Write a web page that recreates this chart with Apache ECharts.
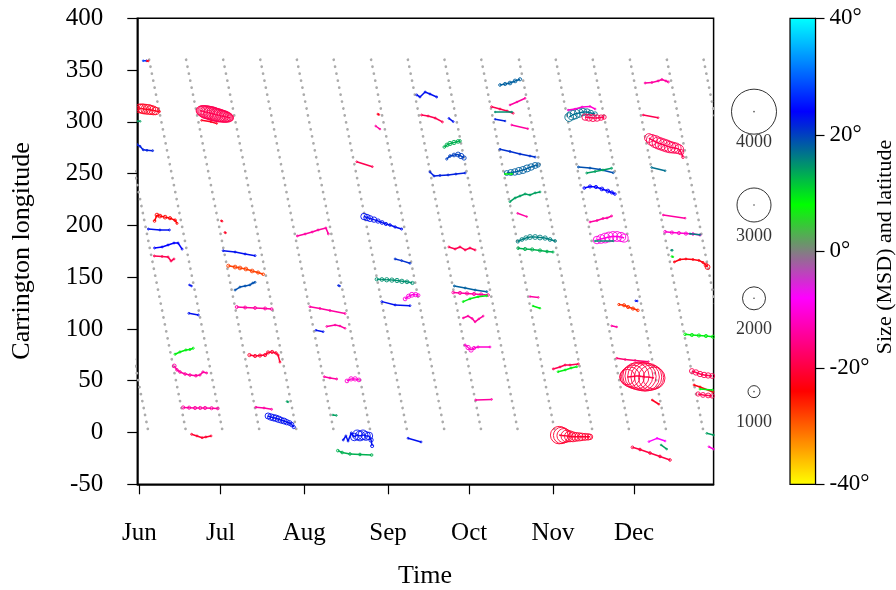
<!DOCTYPE html>
<html><head><meta charset="utf-8">
<script src="https://cdn.jsdelivr.net/npm/echarts@6/dist/echarts.min.js"></script>
<style>html,body{margin:0;padding:0;background:#fff}#c{width:896px;height:590px}</style>
</head><body><div id="c"></div>
<script>
// ---- axis data ----
const monthDays = [0, 30, 61, 92, 122, 153, 183];          // days since Jun 1
const monthLabels = ['Jun', 'Jul', 'Aug', 'Sep', 'Oct', 'Nov', 'Dec'];
const latColors = ['#ffff00','#ff8000','#ff0000','#ff0080','#ff00ff','#808080','#00ff00','#008080','#0000ff','#0080ff','#00ffff'];
const sizeLegend = [1000, 2000, 3000, 4000];
// limb lines: day when central longitude passes 360 and 0
const limbStart = [-23.9,-9.95,3.59,17.28,31.0,44.73,58.27,71.88,85.72,99.33,112.87,126.49,140.44,154.05,167.74,181.47,195.15,208.73];
const limbEnd   = [3.37,17.32,30.86,44.55,58.27,72.0,85.54,99.15,112.99,126.6,140.14,153.76,167.71,181.32,195.01,208.74,222.42,236.0];
// ---- tracks: latitude per track, points [day, longitude, area MSD] ----
const trackLat = [28,-22,-22,14,22,-24,23,24,-19,-22,-22,-14,23,23,9,-14,-14,-21,-19,23,-28,19,-14,-21,-14,23,14,-14,23,-14,-14,-11,14,-22,-14,-19,23,23,-19,23,13,20,22,-19,18,-14,-19,15,22,-14,21,18,9,14,-14,16,13,18,-14,9,-14,-11,-14,13,23,23,17,-19,-11,19,14,24,-14,-10,15,-14,-19,-19,17,-14,-11,16,-14,9,-19,9,-21,-27,23,-14,-17,-20,-22,-20,-8,14,15,9,-23,9,-19,-23,9,-19,14,-10,22,-22,23,15,-10,21];
const trackPoints = [
 [[1.4,359,60],[2.6,359,60]],
 [[2.8,358.8,50],[3.3,358.8,50]],
 [[-0.7,313,300],[0.0,313,700],[0.8,312.8,750],[1.5,312.5,800],[2.4,312.2,800],[3.4,312,800],[4.3,311.5,750],[5.2,311,700],[6.0,310.5,600],[7.4,310,100]],
 [[-0.8,300.5,50],[0.3,300.5,50]],
 [[-0.8,278,80],[0.2,276.5,80],[1.4,273,80],[2.8,272.5,80],[4.9,272.2,80]],
 [[5.6,204.3,150],[6.5,210,250],[7.6,209,250],[9.5,208,250],[11.3,207,200],[13.2,205,150],[13.9,202,100]],
 [[3.3,196.5,80],[7.6,195.6,80],[11.1,195.6,80]],
 [[5.6,178.2,80],[8.4,179.2,80],[10.6,181.1,80],[12.8,183,80],[14.3,183,80],[15.8,177.1,80]],
 [[5.5,170.5,80],[8.4,170,80],[10.6,169.5,80],[11.7,165.6,80],[12.8,167.6,80]],
 [[30.3,204.5,50],[30.6,204,50]],
 [[31.6,193.2,50],[31.9,192.8,50]],
 [[58.4,189.8,80],[61.3,191.7,80],[63.9,193.6,80],[66.1,195.6,80],[69.0,197.5,80],[69.9,191.8,80]],
 [[18.5,142.5,50],[19.3,141.5,50]],
 [[18.3,115.1,80],[21.8,113.5,80]],
 [[13.2,75.6,100],[15.0,77.8,100],[17.2,79.7,100],[18.7,80.2,100],[19.9,81.4,100]],
 [[12.9,64.3,250],[13.9,60.5,150],[15.0,58.5,150],[16.9,56.5,150],[18.7,55.5,150],[20.9,54.9,150],[22.4,55.5,100],[23.5,58.5,100],[24.9,57.5,80]],
 [[16.2,24.2,200],[18.4,24,200],[20.6,23.7,200],[22.5,23.7,200],[24.3,23.7,200],[26.7,23.5,200],[29.0,23.2,150]],
 [[19.3,-1.7,80],[21.3,-3.3,80],[23.2,-5,80],[24.6,-4.3,80],[26.5,-3.3,80]],
 [[22.6,310.8,700],[23.2,310.5,900],[23.8,310,1000],[24.3,309.5,1050],[24.9,309.2,1100],[25.4,309,1100],[26.0,308.6,1100],[26.5,308.2,1150],[27.1,307.8,1150],[27.6,307.4,1150],[28.2,307,1100],[28.7,306.6,1100],[29.3,306.3,1100],[29.8,306,1050],[30.4,305.7,1000],[30.9,305.4,1000],[31.5,305.1,950],[32.0,304.8,900],[32.6,304.5,800],[33.1,304.2,700],[33.6,303.8,500]],
 [[31.0,175.6,80],[35.4,174.3,80],[39.1,172.4,80],[42.8,170.8,80]],
 [[32.9,161,200],[35.4,159.8,250],[37.2,158.9,250],[39.4,157.9,250],[41.7,156,250],[43.9,154.5,200],[45.8,152.8,150]],
 [[35.4,137.6,80],[37.2,140.5,80],[39.1,141.5,80],[40.9,142.5,80],[42.0,144.4,80],[42.8,145.1,80]],
 [[36.0,121.2,180],[39.1,120.7,180],[42.8,120.3,180],[46.5,119.8,180],[48.9,119.3,150]],
 [[40.7,74.8,200],[42.8,73.9,200],[44.6,74.3,200],[46.5,74.8,200],[47.6,77.3,200],[49.1,77.8,200],[50.5,76.8,150],[51.3,74.8,100],[52.0,68,80]],
 [[43.1,24.4,80],[46.1,23.7,80],[48.9,22.4,80]],
 [[47.6,16,450],[48.6,15,500],[49.6,14.3,500],[50.5,13.8,500],[51.5,12.8,500],[52.5,11.8,450],[53.5,11.1,450],[54.5,10,400],[55.5,9.2,350],[56.3,7.8,300],[57.1,5.3,200]],
 [[54.6,30,50],[55.0,29.5,50]],
 [[63.1,121.5,80],[66.8,119.8,80],[70.5,117.8,80],[76.1,114.9,80]],
 [[65.3,98.7,60],[68.0,97.4,60]],
 [[69.3,102.4,60],[72.4,103.8,60],[74.2,102.9,60],[76.1,100.6,60]],
 [[68.4,53.9,80],[70.5,52.7,80],[73.0,51.7,80]],
 [[76.8,49.8,250],[78.3,51.8,300],[79.8,51.8,300],[81.2,50.8,250]],
 [[71.6,17,50],[72.9,16.5,50]],
 [[88.2,307.5,60],[88.6,307,60]],
 [[87.4,296,50],[89.0,293,50]],
 [[80.4,261.5,60],[86.2,256.7,60]],
 [[83.1,208.6,500],[84.2,207.6,500],[85.3,206.6,450],[86.8,205.6,400],[88.3,204.2,300],[89.8,202.8,250],[91.2,201.4,200],[92.7,200.4,150],[94.6,198.5,120],[97.0,196.5,100]],
 [[102.6,326,80],[103.8,324,80],[105.7,328.8,80],[107.5,326.9,80],[110.0,324,80]],
 [[104.4,306.6,80],[106.8,305.6,80],[109.4,303.7,80],[112.1,299.9,80]],
 [[114.5,303.4,60],[116.1,300.2,60]],
 [[112.8,275.7,150],[113.8,277.7,250],[114.9,279.1,300],[116.4,280.1,300],[117.9,281.1,250],[118.6,281.6,150]],
 [[113.7,264.1,100],[114.9,267,150],[116.4,268,250],[117.9,268.5,350],[119.0,267,400],[120.1,265.1,300]],
 [[107.5,251.6,80],[109.0,247.7,80],[111.2,248.2,80],[114.2,248.7,80],[117.1,249.6,80],[120.5,250.6,80]],
 [[114.5,179.2,80],[116.8,177.2,80],[118.6,179.2,80],[120.5,176.3,80],[122.3,178.2,80],[124.2,176.3,80]],
 [[133.4,335.6,150],[135.3,336.6,200],[137.1,337.5,250],[139.0,339.5,250],[140.8,341.1,200]],
 [[137.1,316.3,60],[139.7,319.2,60],[142.7,322.8,60]],
 [[130.3,314.6,80],[133.4,312.4,80],[136.0,310.5,80],[138.3,308.3,80]],
 [[131.6,309.5,50],[137.8,309.5,50]],
 [[131.6,302.5,50],[135.3,300.8,50]],
 [[137.7,297,50],[143.7,293.4,50]],
 [[133.4,273.5,80],[137.1,271.4,80],[140.8,268.9,80],[144.5,267,80],[146.4,266,80]],
 [[135.9,250.6,350],[137.4,251.1,450],[138.9,251.6,500],[140.4,252.6,550],[141.9,253.5,550],[143.4,255,550],[144.9,256.4,500],[146.4,257.9,450],[147.5,258.4,300]],
 [[135.3,249.7,50],[137.8,249.7,50]],
 [[137.1,222.9,80],[139.0,226.5,80],[140.8,228.4,80],[142.7,230.4,80],[144.5,229.4,80],[146.4,231.4,80],[148.2,232.3,80]],
 [[139.9,211.7,50],[143.3,208.5,50]],
 [[140.0,184.5,200],[141.5,186.4,250],[143.0,187.9,300],[144.5,188.8,350],[146.4,188.8,350],[148.2,188.3,350],[150.1,187.8,300],[151.9,186.4,250],[153.8,185,150]],
 [[140.1,178,150],[142.7,177.2,200],[145.3,176.8,200],[148.2,175.8,200],[150.8,174.8,150],[153.0,174.3,100]],
 [[116.5,141.5,80],[120.5,139.6,80],[124.2,137.6,80],[128.5,136,80]],
 [[116.1,135.2,150],[118.6,134.8,200],[121.2,134.3,200],[123.8,133.8,200],[126.4,133.3,200],[129.0,132.8,150]],
 [[119.8,126.4,80],[122.3,129.1,80],[125.3,131.1,80],[128.5,132.1,80]],
 [[119.8,110.6,60],[121.6,112.5,60],[123.1,110.1,60],[124.2,106.8,60],[125.6,109.7,60],[127.2,112.5,60]],
 [[120.5,84.5,100],[121.6,82.1,300],[122.7,79.7,300],[123.8,81.6,200],[125.3,82.6,100],[129.7,82.6,80]],
 [[124.4,31.5,60],[130.3,32,60]],
 [[73.4,-17.5,150],[75.0,-19.3,150],[77.9,-20.7,150],[81.6,-21.2,150],[85.9,-21.7,150]],
 [[75.4,-7.2,80],[76.4,-3.3,80],[77.2,-8.2,80],[78.4,-0.5,100],[79.5,-4.3,600],[80.6,-2.3,800],[81.6,-3.3,800],[82.7,-2.3,800],[83.8,-3.3,700],[84.9,-3.3,600],[85.7,-7.2,300],[86.1,-13,200]],
 [[99.4,-5.5,80],[104.2,-9.1,80]],
 [[159.0,304.6,700],[160.1,306.6,800],[161.2,307.6,800],[162.6,308.6,700],[164.1,309.5,600],[165.6,309.5,500],[167.0,308.6,400],[168.6,307.6,300]],
 [[164.9,304.6,500],[166.3,304.1,550],[167.8,303.7,550],[169.3,303.7,500],[170.8,304.1,400],[171.9,304.6,300]],
 [[158.6,311.4,60],[161.2,312.4,60],[163.8,314.4,60],[166.7,314.9,60],[168.6,312.4,60]],
 [[162.4,256.4,80],[166.7,255.4,80],[170.4,254,80],[175.3,250.9,80]],
 [[165.5,250.6,80],[168.6,252.1,80],[171.5,253.5,80],[174.7,255.2,80]],
 [[164.6,236.1,150],[166.7,237.6,200],[168.9,237.1,200],[171.1,235.2,250],[173.3,233.2,250],[174.8,231.8,200],[175.9,230.3,150]],
 [[166.7,203.3,80],[169.3,204.7,80],[171.5,206.7,80],[173.0,207.2,80],[174.7,209.1,80]],
 [[169.3,185.9,600],[170.8,186.9,700],[172.3,187.8,800],[173.7,188.8,800],[175.2,189.3,800],[176.7,189.3,800],[178.2,188.8,750],[179.3,187.8,650]],
 [[168.6,185,50],[175.3,185,50]],
 [[187.1,337.5,80],[189.6,338,80],[191.9,339.5,80],[193.3,340.9,80],[194.8,339.5,80],[195.7,338.5,80]],
 [[186.4,306.6,60],[191.9,304,60]],
 [[188.5,284.4,700],[189.6,282.5,900],[190.8,281,1000],[191.9,279.6,1000],[193.0,278.6,1000],[194.1,277.6,1000],[195.2,276.6,1000],[196.3,275.6,950],[197.4,275.1,900],[198.5,274.6,850],[199.6,273.6,750],[200.4,270.7,400],[201.1,265.9,150]],
 [[189.5,256,60],[194.5,252.8,60]],
 [[193.8,210,60],[201.9,207,60]],
 [[194.5,193.9,150],[197.0,193.1,200],[199.6,192.6,200],[202.2,192.1,200],[204.8,191.7,150],[207.4,190.7,100]],
 [[203.7,192,50],[207.4,191,50]],
 [[144.5,131.3,50],[147.6,130.5,50]],
 [[145.6,122.2,50],[148.2,120,50]],
 [[153.1,61.4,80],[155.6,63.3,80],[157.5,65.2,80],[159.3,65.2,80],[162.4,66.2,80]],
 [[154.9,58.7,80],[157.5,60.4,80],[159.7,62.3,80],[161.8,63.6,80]],
 [[155.3,-2.5,1500],[156.2,-2.8,1400],[157.1,-3.0,1200],[158.2,-3.4,1000],[159.3,-3.7,900],[160.4,-4.2,800],[161.5,-4.2,700],[162.6,-4.2,650],[163.7,-4.2,600],[164.9,-4.2,550],[166.0,-4.2,500],[166.7,-4.2,400]],
 [[177.4,123.6,120],[179.3,122.9,200],[180.8,121.2,200],[182.6,119.7,200],[184.4,118,150]],
 [[183.6,127.2,50],[184.2,127,50]],
 [[174.7,103,50],[176.6,102,50]],
 [[176.6,71.7,60],[179.7,70.5,60],[183.4,69.6,60],[188.3,68.4,60]],
 [[180.5,53.6,1300],[181.5,53.8,1700],[182.6,54.1,2000],[183.7,54.6,2300],[184.8,54.6,2450],[185.9,54.1,2500],[187.1,53.6,2500],[188.2,53.6,2400],[189.3,53.1,2200],[190.4,52.6,1900]],
 [[189.7,31.4,60],[192.2,27.3,60]],
 [[182.4,-14.3,150],[185.2,-16.4,150],[188.9,-19.8,150],[192.6,-23.1,150],[196.3,-26.5,150]],
 [[188.5,-8.8,60],[191.5,-5.6,60],[194.5,-8.2,60]],
 [[193.0,-12,60],[195.1,-16,60]],
 [[196.8,176,50],[197.2,176,50]],
 [[197.0,170,50],[197.4,169.6,50]],
 [[197.9,164.7,80],[200.0,167.1,80],[202.2,167.6,80],[204.8,167.1,80],[207.0,166.2,80],[208.5,164.2,100],[209.6,161.8,250],[210.2,159.8,350]],
 [[201.9,94.8,150],[204.4,94.2,200],[207.0,93.7,200],[209.6,93.2,200],[212.2,92.5,200]],
 [[204.4,59.4,350],[205.9,58,400],[207.4,56.5,400],[208.9,55.6,400],[210.4,55.1,400],[211.9,54.6,350]],
 [[205.2,45.9,80],[207.4,44,80],[212.2,39.1,80]],
 [[207.4,42,80],[212.0,41,80]],
 [[206.7,37.2,300],[208.5,36.3,350],[210.4,35.8,350],[211.9,35.3,300]],
 [[209.9,-0.8,60],[212.4,-2.4,60]],
 [[210.7,-13.7,60],[212.4,-16,60]],
 [[73.6,142,50],[74.1,141.5,50]],
 [[23.0,301.5,60],[26.5,300,60],[28.6,298.5,60]],
 [[89.7,126.4,80],[94.6,123.2,80],[100.1,122.5,80]],
 [[87.8,148,200],[89.7,147.8,250],[91.5,147.5,300],[93.4,147.2,300],[95.3,146.8,300],[97.1,146,300],[99.0,145.5,250],[101.0,144.4,200]],
 [[98.3,129,250],[99.6,131.5,300],[100.8,133,350],[102.2,133.2,300],[103.2,132.5,200]],
 [[94.6,167.6,80],[97.0,166,80],[100.1,163.4,80]]
];

// ---- build ----
const FONT = 'Liberation Serif';
function sizeOf(a) { return 1 + a * 0.011; }
const flat = [];
trackPoints.forEach((pts, t) => pts.forEach(p => flat.push([p[0], p[1], trackLat[t], p[2], t])));

function renderTrack(params, api) {
  const i = params.dataIndex;
  const cur = flat[i];
  const p = api.coord([api.value(0), api.value(1)]);
  const color = api.visual('color');
  const r = sizeOf(api.value(3)) / 2;
  const children = [];
  const nxt = flat[i + 1];
  if (nxt && nxt[4] === cur[4]) {
    const q = api.coord([nxt[0], nxt[1]]);
    children.push({ type: 'line', shape: { x1: p[0], y1: p[1], x2: q[0], y2: q[1] }, style: { stroke: color, lineWidth: 1.5 } });
  }
  children.push({ type: 'circle', shape: { cx: p[0], cy: p[1], r: r }, style: { fill: 'none', stroke: color, lineWidth: 0.9 } });
  return { type: 'group', children: children };
}

const series = [];
limbStart.forEach((s, i) => {
  series.push({
    type: 'line', xAxisIndex: 0, yAxisIndex: 0, silent: true, symbol: 'none', showSymbol: false,
    data: [[s, 360], [limbEnd[i], 0]], clip: true, z: 1,
    lineStyle: { color: '#ababab', width: 2.7, type: [0.1, 7], cap: 'round' }
  });
});
const trackSeriesIndex = series.length;
series.push({
  type: 'custom', xAxisIndex: 0, yAxisIndex: 0, data: flat, renderItem: renderTrack, clip: true, z: 3,
  encode: { x: 0, y: 1 }, silent: true
});
series.push({
  type: 'scatter', xAxisIndex: 2, yAxisIndex: 2, silent: true,
  data: sizeLegend.map((a, i) => [0.5, i]),
  symbol: 'circle',
  symbolSize: (v, p) => sizeOf(sizeLegend[p.dataIndex]),
  itemStyle: { color: 'rgba(0,0,0,0)', borderColor: '#000', borderWidth: 1 },
  label: { show: true, position: 'inside', offset: [0, 31], formatter: p => String(sizeLegend[p.dataIndex]),
           color: '#000', fontFamily: FONT, fontSize: 18 }
});
series.push({
  type: 'scatter', xAxisIndex: 2, yAxisIndex: 2, silent: true,
  data: sizeLegend.map((a, i) => [0.5, i]), symbol: 'circle', symbolSize: 1.6,
  itemStyle: { color: '#222' }
});

const option = {
  animation: false,
  backgroundColor: '#fff',
  grid: [
    { left: 137.3, right: 182.4, top: 18.3, bottom: 105.7, show: true, borderColor: '#000', borderWidth: 1.5, backgroundColor: 'transparent' },
    { left: 790, width: 25.5, top: 18.3, height: 466 },
    { left: 730, width: 48, top: 65, height: 373.3 }
  ],
  xAxis: [
    { gridIndex: 0, type: 'value', min: -0.78, max: 212.43,
      axisLine: { onZero: false, lineStyle: { color: '#000', width: 1.5 } },
      axisTick: { show: true, length: 10, lineStyle: { color: '#000', width: 1.2 }, customValues: monthDays },
      axisLabel: { customValues: monthDays, formatter: v => monthLabels[monthDays.indexOf(v)] || '', margin: 37,
                   color: '#000', fontFamily: FONT, fontSize: 25 },
      splitLine: { show: false } },
    { gridIndex: 1, type: 'value', min: 0, max: 1, show: false },
    { gridIndex: 2, type: 'value', min: 0, max: 1, show: false }
  ],
  yAxis: [
    { gridIndex: 0, type: 'value', min: -50, max: 400, interval: 50,
      axisLine: { show: true, onZero: false, lineStyle: { color: '#000', width: 1.5 } },
      axisTick: { show: true, length: 10, lineStyle: { color: '#000', width: 1.2 } },
      axisLabel: { margin: 34, color: '#000', fontFamily: FONT, fontSize: 25 },
      splitLine: { show: false } },
    { gridIndex: 1, type: 'value', position: 'right', min: -40, max: 40, interval: 20,
      axisLine: { show: true, onZero: false, lineStyle: { color: '#000', width: 1.2 } },
      axisTick: { show: true, length: 9, lineStyle: { color: '#000', width: 1.2 } },
      axisLabel: { margin: 14, formatter: v => v + '°', color: '#000', fontFamily: FONT, fontSize: 23 },
      splitLine: { show: false } },
    { gridIndex: 2, type: 'category', data: sizeLegend.map(String), show: false }
  ],
  visualMap: [{
    type: 'continuous', min: -40, max: 40, dimension: 2, seriesIndex: trackSeriesIndex,
    inRange: { color: latColors }, left: 790, top: 18.3, itemWidth: 25.5, itemHeight: 466,
    padding: 0, calculable: false, hoverLink: false, text: null, orient: 'vertical'
  }],
  graphic: [
    { type: 'rect', z: 100, silent: true, shape: { x: 790, y: 18.3, width: 25.5, height: 466 },
      style: { fill: 'none', stroke: '#000', lineWidth: 1.2 } },
    { type: 'text', z: 100, x: 22, y: 251, rotation: Math.PI / 2, silent: true,
      style: { text: 'Carrington longitude', fontFamily: FONT, fontSize: 26, fill: '#000',
               align: 'center', verticalAlign: 'middle', textAlign: 'center', textVerticalAlign: 'middle' } },
    { type: 'text', z: 100, x: 425, y: 576, silent: true,
      style: { text: 'Time', fontFamily: FONT, fontSize: 26, fill: '#000',
               align: 'center', verticalAlign: 'middle', textAlign: 'center', textVerticalAlign: 'middle' } },
    { type: 'text', z: 100, x: 885, y: 247, rotation: Math.PI / 2, silent: true,
      style: { text: 'Size (MSD) and latitude', fontFamily: FONT, fontSize: 22, fill: '#000',
               align: 'center', verticalAlign: 'middle', textAlign: 'center', textVerticalAlign: 'middle' } }
  ],
  series: series
};
const chart = echarts.init(document.getElementById('c'), null, { renderer: 'canvas' });
chart.setOption(option);
</script>
</body></html>
